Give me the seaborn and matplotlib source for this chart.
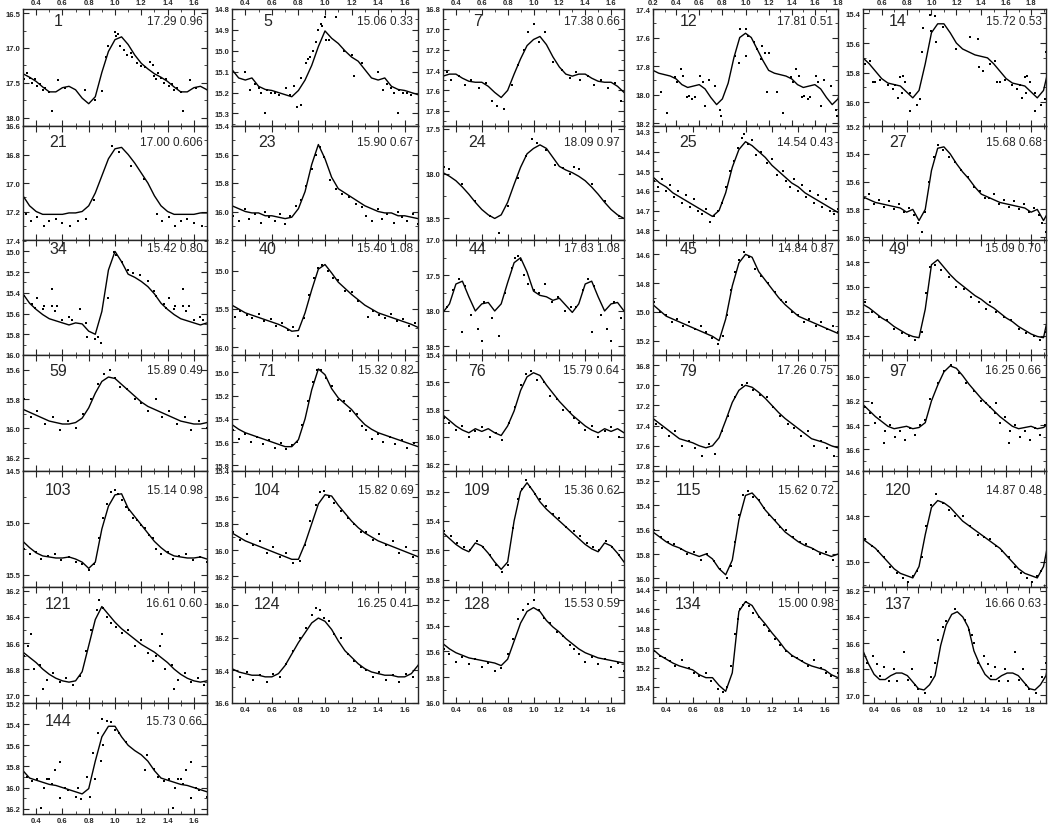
import matplotlib
matplotlib.use("Agg")
import matplotlib.pyplot as plt
from matplotlib.ticker import MultipleLocator, FormatStrFormatter
import seaborn as sns

# 광도곡선 패널 31개 (위상 0.00~0.95, 0.05 간격의 한 주기 곡선 + 관측점)

star_ids = [1, 5, 7, 12, 14,
            21, 23, 24, 25, 27,
            34, 40, 44, 45, 49,
            59, 71, 76, 79, 97,
            103, 104, 109, 115, 120,
            121, 124, 128, 134, 137,
            144]
mean_mag = ["17.29", "15.06", "17.38", "17.81", "15.72",
            "17.00", "15.90", "18.09", "14.54", "15.68",
            "15.42", "15.40", "17.63", "14.84", "15.09",
            "15.89", "15.32", "15.79", "17.26", "16.25",
            "15.14", "15.82", "15.36", "15.62", "14.87",
            "16.61", "16.25", "15.53", "15.00", "16.66",
            "15.73"]
amp = ["0.96", "0.33", "0.66", "0.51", "0.53",
       "0.606", "0.67", "0.97", "0.43", "0.68",
       "0.80", "1.08", "1.08", "0.87", "0.70",
       "0.49", "0.82", "0.64", "0.75", "0.66",
       "0.98", "0.69", "0.62", "0.72", "0.48",
       "0.60", "0.41", "0.59", "0.98", "0.63",
       "0.66"]
# y축 범위 (아래, 위) - 등급이므로 뒤집힘
y_lims = [(18.12, 16.44), (15.36, 14.80), (17.95, 16.80), (18.22, 17.40), (16.16, 15.37),
          (17.40, 16.60), (16.20, 15.40), (18.74, 17.47), (14.85, 14.27), (16.02, 15.20),
          (16.00, 14.89), (16.10, 14.60), (18.62, 17.00), (15.30, 14.50), (15.55, 14.62),
          (16.29, 15.50), (15.85, 14.85), (16.25, 15.40), (17.85, 16.70), (16.78, 15.82),
          (15.62, 14.50), (16.28, 15.40), (15.85, 15.06), (16.07, 15.12), (15.11, 14.60),
          (17.06, 16.17), (16.60, 15.89), (16.00, 15.10), (15.56, 14.37), (17.06, 16.17),
          (16.25, 15.20)]
y_steps = [0.5, 0.1, 0.2, 0.2, 0.2,
           0.2, 0.2, 0.5, 0.1, 0.2,
           0.2, 0.5, 0.5, 0.2, 0.2,
           0.2, 0.2, 0.2, 0.2, 0.2,
           0.5, 0.2, 0.2, 0.2, 0.2,
           0.2, 0.2, 0.2, 0.2, 0.2,
           0.2]
x_lims = [(0.3, 1.7), (0.3, 1.7), (0.3, 1.7), (0.2, 1.8), (0.45, 1.92),
          (0.3, 1.7), (0.3, 1.7), (0.3, 1.7), (0.3, 1.7), (0.45, 1.92),
          (0.3, 1.7), (0.3, 1.7), (0.3, 1.7), (0.3, 1.7), (0.45, 1.92),
          (0.3, 1.7), (0.3, 1.7), (0.3, 1.7), (0.3, 1.7), (0.45, 1.92),
          (0.3, 1.7), (0.3, 1.7), (0.3, 1.7), (0.3, 1.7), (0.45, 1.92),
          (0.3, 1.7), (0.3, 1.7), (0.3, 1.7), (0.3, 1.7), (0.3, 1.95),
          (0.3, 1.7)]

curve_phase = [0.00, 0.05, 0.10, 0.15, 0.20, 0.25, 0.30, 0.35, 0.40, 0.45,
               0.50, 0.55, 0.60, 0.65, 0.70, 0.75, 0.80, 0.85, 0.90, 0.95]

c_1 = [16.88, 16.84, 16.95, 17.10, 17.22, 17.30, 17.37, 17.42, 17.48, 17.56, 17.63, 17.63, 17.57, 17.55, 17.60, 17.72, 17.80, 17.70, 17.35, 17.05]
c_5 = [14.905, 14.94, 14.965, 15.00, 15.03, 15.05, 15.09, 15.13, 15.14, 15.13, 15.17, 15.185, 15.19, 15.20, 15.21, 15.22, 15.19, 15.14, 15.07, 14.98]
c_7 = [17.10, 17.07, 17.15, 17.27, 17.37, 17.44, 17.46, 17.44, 17.44, 17.48, 17.51, 17.52, 17.52, 17.56, 17.62, 17.67, 17.60, 17.44, 17.29, 17.16]
c_12 = [17.57, 17.60, 17.68, 17.76, 17.83, 17.85, 17.86, 17.87, 17.89, 17.93, 17.95, 17.94, 17.93, 17.96, 18.02, 18.07, 18.03, 17.92, 17.74, 17.60]
c_14 = [15.53, 15.47, 15.47, 15.53, 15.60, 15.64, 15.66, 15.68, 15.69, 15.70, 15.74, 15.79, 15.84, 15.87, 15.88, 15.89, 15.93, 15.97, 15.92, 15.74]
c_21 = [16.76, 16.75, 16.80, 16.86, 16.93, 17.00, 17.09, 17.16, 17.20, 17.22, 17.22, 17.22, 17.22, 17.21, 17.21, 17.20, 17.16, 17.07, 16.95, 16.83]
c_23 = [15.63, 15.76, 15.84, 15.87, 15.90, 15.93, 15.96, 15.98, 16.00, 16.01, 16.01, 16.03, 16.03, 16.04, 16.05, 16.04, 15.98, 15.86, 15.67, 15.53]
c_24 = [17.72, 17.68, 17.72, 17.82, 17.92, 17.96, 17.99, 18.03, 18.08, 18.15, 18.23, 18.32, 18.40, 18.46, 18.50, 18.46, 18.32, 18.12, 17.93, 17.78]
c_25 = [14.35, 14.37, 14.40, 14.43, 14.47, 14.50, 14.53, 14.56, 14.58, 14.61, 14.63, 14.65, 14.67, 14.69, 14.71, 14.73, 14.70, 14.61, 14.48, 14.39]
c_27 = [15.52, 15.36, 15.35, 15.40, 15.47, 15.53, 15.58, 15.64, 15.69, 15.71, 15.73, 15.75, 15.76, 15.77, 15.78, 15.79, 15.82, 15.80, 15.88, 15.80]
c_34 = [15.00, 15.10, 15.22, 15.25, 15.29, 15.34, 15.41, 15.50, 15.56, 15.61, 15.65, 15.67, 15.69, 15.71, 15.69, 15.70, 15.77, 15.80, 15.58, 15.18]
c_40 = [14.92, 15.03, 15.15, 15.23, 15.31, 15.38, 15.45, 15.50, 15.55, 15.58, 15.61, 15.64, 15.67, 15.70, 15.74, 15.79, 15.78, 15.55, 15.25, 14.98]
c_44 = [17.72, 17.78, 17.80, 17.85, 17.82, 17.92, 18.02, 17.90, 17.62, 17.58, 17.80, 18.00, 17.90, 17.88, 18.00, 17.90, 17.60, 17.32, 17.25, 17.45]
c_45 = [14.60, 14.62, 14.72, 14.78, 14.84, 14.90, 14.95, 14.99, 15.03, 15.05, 15.07, 15.09, 15.11, 15.13, 15.15, 15.17, 15.20, 15.05, 14.82, 14.66]
c_49 = [14.82, 14.78, 14.84, 14.90, 14.95, 14.99, 15.03, 15.07, 15.10, 15.14, 15.17, 15.21, 15.25, 15.28, 15.32, 15.35, 15.38, 15.40, 15.41, 15.18]
c_59 = [15.66, 15.70, 15.74, 15.78, 15.82, 15.85, 15.87, 15.89, 15.91, 15.93, 15.95, 15.96, 15.97, 15.97, 15.96, 15.93, 15.86, 15.76, 15.68, 15.65]
c_71 = [15.02, 15.14, 15.22, 15.27, 15.32, 15.39, 15.45, 15.49, 15.52, 15.54, 15.56, 15.58, 15.60, 15.62, 15.64, 15.64, 15.58, 15.40, 15.15, 14.97]
c_76 = [15.53, 15.55, 15.62, 15.68, 15.74, 15.79, 15.84, 15.88, 15.92, 15.95, 15.97, 15.94, 15.96, 15.94, 15.97, 15.99, 15.92, 15.81, 15.66, 15.56]
c_79 = [17.00, 17.02, 17.07, 17.13, 17.20, 17.27, 17.33, 17.38, 17.43, 17.48, 17.53, 17.55, 17.57, 17.60, 17.62, 17.60, 17.52, 17.35, 17.17, 17.05]
c_97 = [16.20, 16.07, 15.96, 15.91, 15.93, 15.99, 16.06, 16.12, 16.18, 16.23, 16.28, 16.33, 16.37, 16.41, 16.43, 16.42, 16.41, 16.43, 16.42, 16.38]
c_103 = [14.73, 14.72, 14.86, 14.94, 15.02, 15.10, 15.18, 15.24, 15.29, 15.32, 15.33, 15.34, 15.34, 15.33, 15.35, 15.38, 15.44, 15.38, 15.06, 14.84]
c_104 = [15.58, 15.59, 15.66, 15.72, 15.78, 15.83, 15.87, 15.90, 15.93, 15.95, 15.97, 15.99, 16.01, 16.03, 16.05, 16.07, 16.07, 15.95, 15.80, 15.65]
c_109 = [15.20, 15.27, 15.32, 15.36, 15.40, 15.44, 15.48, 15.52, 15.56, 15.59, 15.61, 15.55, 15.57, 15.62, 15.68, 15.73, 15.68, 15.40, 15.20, 15.14]
c_115 = [15.32, 15.30, 15.36, 15.44, 15.50, 15.56, 15.62, 15.66, 15.70, 15.73, 15.75, 15.78, 15.80, 15.82, 15.80, 15.84, 15.92, 15.97, 15.85, 15.52]
c_120 = [14.76, 14.73, 14.74, 14.76, 14.79, 14.82, 14.84, 14.86, 14.88, 14.90, 14.92, 14.94, 14.97, 15.00, 15.03, 15.05, 15.06, 15.07, 15.02, 14.88]
c_121 = [16.44, 16.49, 16.53, 16.57, 16.61, 16.64, 16.67, 16.71, 16.75, 16.80, 16.84, 16.87, 16.89, 16.90, 16.89, 16.82, 16.62, 16.42, 16.32, 16.38]
c_124 = [16.10, 16.15, 16.22, 16.28, 16.32, 16.36, 16.39, 16.41, 16.42, 16.43, 16.43, 16.44, 16.44, 16.42, 16.37, 16.30, 16.23, 16.17, 16.11, 16.08]
c_128 = [15.26, 15.29, 15.36, 15.41, 15.45, 15.50, 15.54, 15.58, 15.61, 15.63, 15.65, 15.66, 15.67, 15.68, 15.69, 15.71, 15.66, 15.52, 15.38, 15.29]
c_134 = [14.52, 14.56, 14.67, 14.75, 14.84, 14.92, 15.01, 15.07, 15.11, 15.15, 15.18, 15.20, 15.22, 15.27, 15.30, 15.30, 15.38, 15.44, 15.25, 14.62]
c_137 = [16.62, 16.46, 16.38, 16.36, 16.40, 16.48, 16.66, 16.76, 16.84, 16.88, 16.88, 16.85, 16.83, 16.83, 16.85, 16.90, 16.95, 16.96, 16.92, 16.85]
c_144 = [15.42, 15.52, 15.60, 15.65, 15.69, 15.75, 15.84, 15.91, 15.93, 15.95, 15.97, 15.98, 16.00, 16.02, 16.04, 16.06, 16.01, 15.75, 15.52, 15.42]

# 관측점 (위상, 등급)
ph_1 = [0.00, 0.005, 0.02, 0.04, 0.07, 0.09, 0.12, 0.13, 0.17, 0.20, 0.23, 0.27, 0.29, 0.30, 0.31, 0.33, 0.35, 0.37, 0.39, 0.41, 0.43, 0.45, 0.47, 0.50, 0.52, 0.57, 0.62, 0.77, 0.85, 0.90, 0.93, 0.95]
mg_1 = [16.77, 16.83, 16.80, 16.97, 17.03, 17.10, 17.07, 17.13, 17.22, 17.26, 17.27, 17.20, 17.24, 17.40, 17.45, 17.36, 17.43, 17.50, 17.45, 17.55, 17.52, 17.60, 17.57, 17.63, 17.91, 17.46, 17.57, 17.60, 17.74, 17.62, 17.13, 16.97]
ph_5 = [0.00, 0.01, 0.03, 0.08, 0.14, 0.20, 0.22, 0.28, 0.40, 0.435, 0.47, 0.50, 0.52, 0.55, 0.56, 0.59, 0.62, 0.65, 0.71, 0.74, 0.77, 0.79, 0.82, 0.82, 0.86, 0.87, 0.89, 0.91, 0.93, 0.95, 0.97, 0.98]
mg_5 = [14.84, 14.95, 14.95, 14.84, 15.00, 15.02, 15.12, 15.06, 15.10, 15.19, 15.16, 15.18, 15.20, 15.30, 15.19, 15.20, 15.20, 15.21, 15.18, 15.21, 15.17, 15.27, 15.26, 15.13, 15.06, 15.04, 15.03, 15.00, 14.96, 14.90, 14.87, 14.88]
ph_7 = [0.00, 0.04, 0.09, 0.15, 0.22, 0.28, 0.33, 0.36, 0.42, 0.47, 0.52, 0.58, 0.63, 0.68, 0.72, 0.77, 0.83, 0.88, 0.93, 0.96]
mg_7 = [16.95, 17.12, 17.03, 17.32, 17.40, 17.48, 17.42, 17.50, 17.46, 17.55, 17.50, 17.58, 17.53, 17.70, 17.75, 17.78, 17.55, 17.35, 17.20, 17.03]
ph_12 = [0.95, 0.00, 0.00, 0.02, 0.07, 0.10, 0.13, 0.14, 0.17, 0.19, 0.20, 0.27, 0.32, 0.39, 0.41, 0.44, 0.46, 0.49, 0.51, 0.54, 0.56, 0.61, 0.63, 0.65, 0.68, 0.74, 0.78, 0.79, 0.91, 0.94]
mg_12 = [17.54, 17.54, 17.73, 17.59, 17.63, 17.68, 17.75, 17.66, 17.71, 17.98, 17.71, 17.98, 18.13, 17.88, 17.91, 17.82, 17.87, 18.02, 18.01, 18.03, 18.02, 17.87, 17.91, 18.08, 17.90, 17.94, 18.11, 18.15, 17.73, 17.78]
ph_14 = [0.47, 0.53, 0.59, 0.65, 0.71, 0.75, 0.77, 0.79, 0.69, 0.73, 0.76, 0.83, 0.83, 0.88, 0.91, 0.92, 0.93, 0.99, 0.03, 0.00, 0.04, 0.09, 0.20, 0.31, 0.37, 0.38, 0.41, 0.51, 0.55]
mg_14 = [15.74, 15.86, 15.85, 15.88, 15.88, 15.83, 15.82, 15.86, 15.91, 15.97, 15.94, 15.94, 16.06, 16.02, 15.98, 15.66, 15.50, 15.41, 15.42, 15.52, 15.59, 15.49, 15.64, 15.56, 15.57, 15.76, 15.79, 15.72, 15.86]
ph_21 = [0.32, 0.36, 0.41, 0.46, 0.50, 0.55, 0.60, 0.66, 0.72, 0.78, 0.84, 0.98, 0.03, 0.12, 0.22]
mg_21 = [17.22, 17.27, 17.24, 17.30, 17.27, 17.25, 17.28, 17.30, 17.27, 17.25, 17.12, 16.74, 16.78, 16.88, 16.97]
ph_23 = [0.31, 0.35, 0.40, 0.43, 0.47, 0.52, 0.55, 0.58, 0.62, 0.66, 0.70, 0.74, 0.78, 0.82, 0.86, 0.90, 0.93, 0.96, 0.99, 0.04, 0.08, 0.13, 0.18, 0.23, 0.28]
mg_23 = [16.03, 16.07, 15.98, 16.05, 16.02, 16.08, 16.00, 16.04, 16.07, 16.02, 16.09, 16.03, 15.96, 15.92, 15.82, 15.70, 15.60, 15.55, 15.62, 15.78, 15.84, 15.88, 15.90, 15.95, 15.97]
ph_24 = [0.31, 0.35, 0.45, 0.55, 0.66, 0.73, 0.80, 0.88, 0.94, 0.99, 0.03, 0.10, 0.17, 0.23, 0.28]
mg_24 = [17.93, 17.95, 18.12, 18.30, 18.47, 18.66, 18.36, 18.05, 17.80, 17.62, 17.66, 17.74, 17.90, 17.94, 18.00]
ph_25 = [0.31, 0.34, 0.37, 0.40, 0.43, 0.46, 0.49, 0.52, 0.55, 0.58, 0.61, 0.64, 0.67, 0.70, 0.73, 0.76, 0.79, 0.82, 0.85, 0.88, 0.91, 0.94, 0.97, 0.99, 0.02, 0.05, 0.08, 0.12, 0.16, 0.20, 0.24, 0.28]
mg_25 = [14.55, 14.58, 14.54, 14.60, 14.57, 14.63, 14.60, 14.66, 14.62, 14.68, 14.64, 14.70, 14.72, 14.69, 14.76, 14.73, 14.70, 14.66, 14.58, 14.50, 14.45, 14.38, 14.33, 14.31, 14.36, 14.34, 14.42, 14.40, 14.46, 14.44, 14.52, 14.50]
ph_27 = [0.46, 0.50, 0.54, 0.58, 0.62, 0.66, 0.70, 0.74, 0.78, 0.82, 0.86, 0.89, 0.92, 0.95, 0.98, 0.02, 0.05, 0.09, 0.14, 0.19, 0.24, 0.29, 0.34, 0.39, 0.43]
mg_27 = [15.72, 15.69, 15.76, 15.73, 15.78, 15.74, 15.80, 15.76, 15.82, 15.79, 15.84, 15.90, 15.96, 15.82, 15.60, 15.42, 15.34, 15.37, 15.42, 15.46, 15.52, 15.57, 15.64, 15.67, 15.72]
ph_34 = [0.31, 0.37, 0.39, 0.41, 0.45, 0.46, 0.52, 0.52, 0.54, 0.56, 0.60, 0.65, 0.67, 0.73, 0.78, 0.79, 0.85, 0.89, 0.87, 0.95, 0.99, 0.01, 0.05, 0.10, 0.14, 0.19, 0.25, 0.30]
mg_34 = [15.43, 15.51, 15.55, 15.45, 15.56, 15.53, 15.36, 15.53, 15.58, 15.53, 15.66, 15.63, 15.66, 15.56, 15.69, 15.83, 15.85, 15.88, 15.83, 15.45, 15.01, 15.03, 15.10, 15.18, 15.21, 15.23, 15.29, 15.38]
ph_40 = [0.32, 0.36, 0.41, 0.45, 0.50, 0.54, 0.59, 0.63, 0.68, 0.72, 0.76, 0.80, 0.84, 0.88, 0.92, 0.95, 0.98, 0.02, 0.06, 0.10, 0.15, 0.20, 0.25]
mg_40 = [15.60, 15.52, 15.58, 15.62, 15.57, 15.66, 15.63, 15.72, 15.68, 15.77, 15.74, 15.85, 15.62, 15.32, 15.10, 14.96, 14.93, 15.00, 15.10, 15.12, 15.26, 15.28, 15.40]
ph_44 = [0.33, 0.38, 0.42, 0.47, 0.52, 0.57, 0.62, 0.68, 0.73, 0.78, 0.83, 0.86, 0.88, 0.90, 0.93, 0.96, 0.00, 0.04, 0.09, 0.14, 0.19, 0.24, 0.29, 0.45, 0.60]
mg_44 = [17.95, 17.70, 17.55, 17.65, 18.05, 18.25, 17.88, 18.10, 18.35, 17.75, 17.40, 17.25, 17.22, 17.28, 17.50, 17.62, 17.70, 17.75, 17.62, 17.88, 17.80, 18.00, 17.95, 18.30, 18.42]
ph_45 = [0.31, 0.35, 0.40, 0.44, 0.48, 0.53, 0.57, 0.62, 0.66, 0.70, 0.75, 0.79, 0.83, 0.86, 0.89, 0.92, 0.95, 0.99, 0.03, 0.07, 0.12, 0.17, 0.22, 0.27]
mg_45 = [14.93, 15.00, 15.02, 15.07, 15.05, 15.10, 15.07, 15.12, 15.10, 15.14, 15.18, 15.22, 15.17, 15.02, 14.85, 14.72, 14.64, 14.58, 14.62, 14.70, 14.75, 14.80, 14.86, 14.92]
ph_49 = [0.47, 0.52, 0.58, 0.64, 0.70, 0.76, 0.82, 0.87, 0.92, 0.96, 0.99, 0.03, 0.08, 0.14, 0.20, 0.26, 0.32, 0.38, 0.44]
mg_49 = [15.12, 15.20, 15.24, 15.27, 15.34, 15.37, 15.40, 15.43, 15.36, 15.05, 14.84, 14.82, 14.86, 14.92, 15.00, 15.02, 15.08, 15.12, 15.18]
ph_59 = [0.31, 0.36, 0.41, 0.47, 0.53, 0.58, 0.64, 0.70, 0.76, 0.82, 0.87, 0.92, 0.96, 0.00, 0.04, 0.09, 0.15, 0.20, 0.25]
mg_59 = [15.80, 15.92, 15.88, 15.97, 15.92, 16.01, 15.95, 16.00, 15.90, 15.80, 15.70, 15.63, 15.60, 15.66, 15.72, 15.73, 15.80, 15.83, 15.88]
ph_71 = [0.31, 0.35, 0.40, 0.44, 0.49, 0.53, 0.58, 0.62, 0.67, 0.71, 0.75, 0.79, 0.83, 0.87, 0.91, 0.94, 0.97, 0.01, 0.05, 0.10, 0.14, 0.19, 0.24, 0.28]
mg_71 = [15.50, 15.57, 15.53, 15.60, 15.56, 15.62, 15.58, 15.65, 15.61, 15.66, 15.63, 15.60, 15.45, 15.25, 15.08, 14.98, 14.98, 15.05, 15.12, 15.24, 15.25, 15.33, 15.36, 15.46]
ph_76 = [0.31, 0.35, 0.40, 0.45, 0.50, 0.55, 0.60, 0.66, 0.71, 0.76, 0.81, 0.86, 0.90, 0.94, 0.98, 0.03, 0.08, 0.13, 0.18, 0.23, 0.28]
mg_76 = [15.86, 15.90, 15.95, 15.92, 16.00, 15.96, 15.93, 16.00, 15.97, 16.02, 15.90, 15.78, 15.62, 15.54, 15.52, 15.58, 15.60, 15.70, 15.72, 15.80, 15.82]
ph_79 = [0.32, 0.37, 0.42, 0.47, 0.52, 0.57, 0.62, 0.67, 0.72, 0.77, 0.82, 0.87, 0.92, 0.97, 0.01, 0.06, 0.11, 0.16, 0.21, 0.26]
mg_79 = [17.38, 17.42, 17.50, 17.45, 17.60, 17.55, 17.62, 17.70, 17.58, 17.68, 17.45, 17.30, 17.12, 17.00, 16.98, 17.05, 17.10, 17.12, 17.22, 17.30]
ph_97 = [0.47, 0.51, 0.55, 0.59, 0.63, 0.67, 0.71, 0.75, 0.79, 0.83, 0.87, 0.91, 0.95, 0.99, 0.05, 0.10, 0.16, 0.22, 0.28, 0.34, 0.40, 0.44, 0.52, 0.62]
mg_97 = [16.25, 16.30, 16.38, 16.33, 16.45, 16.40, 16.50, 16.45, 16.52, 16.42, 16.48, 16.40, 16.36, 16.18, 16.05, 15.95, 15.90, 15.97, 16.05, 16.12, 16.20, 16.22, 16.22, 16.55]
ph_103 = [0.31, 0.35, 0.40, 0.44, 0.49, 0.54, 0.59, 0.65, 0.70, 0.75, 0.80, 0.84, 0.88, 0.91, 0.94, 0.97, 0.00, 0.02, 0.05, 0.08, 0.11, 0.14, 0.17, 0.20, 0.23, 0.26, 0.29]
mg_103 = [15.25, 15.30, 15.28, 15.35, 15.32, 15.30, 15.36, 15.33, 15.38, 15.40, 15.46, 15.40, 15.15, 14.95, 14.82, 14.70, 14.68, 14.72, 14.78, 14.85, 14.88, 14.95, 14.97, 15.02, 15.05, 15.12, 15.15]
ph_104 = [0.31, 0.36, 0.41, 0.46, 0.51, 0.56, 0.61, 0.66, 0.71, 0.76, 0.81, 0.85, 0.89, 0.93, 0.96, 0.99, 0.03, 0.07, 0.12, 0.17, 0.22, 0.27]
mg_104 = [15.86, 15.92, 15.88, 15.96, 15.93, 16.02, 15.98, 16.05, 16.02, 16.10, 16.08, 15.96, 15.78, 15.66, 15.56, 15.55, 15.60, 15.64, 15.70, 15.76, 15.80, 15.86]
ph_109 = [0.31, 0.36, 0.41, 0.46, 0.51, 0.56, 0.61, 0.66, 0.71, 0.76, 0.80, 0.84, 0.88, 0.91, 0.94, 0.97, 0.01, 0.05, 0.10, 0.15, 0.20, 0.25]
mg_109 = [15.47, 15.50, 15.55, 15.58, 15.60, 15.54, 15.58, 15.63, 15.70, 15.75, 15.70, 15.45, 15.25, 15.18, 15.12, 15.17, 15.22, 15.25, 15.30, 15.35, 15.38, 15.44]
ph_115 = [0.31, 0.36, 0.41, 0.46, 0.51, 0.56, 0.61, 0.66, 0.71, 0.76, 0.81, 0.86, 0.89, 0.92, 0.95, 0.98, 0.02, 0.06, 0.10, 0.14, 0.18, 0.22, 0.26]
mg_115 = [15.60, 15.66, 15.70, 15.72, 15.76, 15.80, 15.78, 15.85, 15.80, 15.86, 15.92, 16.00, 15.90, 15.70, 15.48, 15.32, 15.28, 15.33, 15.36, 15.42, 15.48, 15.52, 15.58]
ph_120 = [0.47, 0.52, 0.57, 0.62, 0.67, 0.72, 0.77, 0.81, 0.85, 0.88, 0.92, 0.96, 0.00, 0.04, 0.09, 0.14, 0.19, 0.25, 0.31, 0.37, 0.42]
mg_120 = [14.90, 14.93, 14.95, 14.98, 15.02, 15.05, 15.07, 15.09, 15.06, 15.04, 14.98, 14.84, 14.75, 14.70, 14.74, 14.77, 14.80, 14.80, 14.84, 14.88, 14.89]
ph_121 = [0.31, 0.34, 0.38, 0.43, 0.48, 0.53, 0.58, 0.63, 0.68, 0.73, 0.78, 0.82, 0.86, 0.88, 0.91, 0.94, 0.97, 0.01, 0.05, 0.10, 0.15, 0.20, 0.25, 0.29, 0.36, 0.45]
mg_121 = [16.70, 16.62, 16.80, 16.77, 16.88, 16.83, 16.90, 16.87, 16.92, 16.85, 16.66, 16.50, 16.35, 16.27, 16.33, 16.40, 16.45, 16.48, 16.52, 16.50, 16.62, 16.58, 16.68, 16.74, 16.53, 16.95]
ph_124 = [0.31, 0.36, 0.41, 0.46, 0.51, 0.56, 0.61, 0.66, 0.71, 0.76, 0.81, 0.86, 0.90, 0.93, 0.96, 0.99, 0.03, 0.07, 0.12, 0.17, 0.22, 0.27]
mg_124 = [16.40, 16.44, 16.41, 16.46, 16.43, 16.47, 16.42, 16.44, 16.36, 16.28, 16.20, 16.14, 16.06, 16.02, 16.03, 16.08, 16.10, 16.18, 16.20, 16.30, 16.34, 16.38]
ph_128 = [0.31, 0.35, 0.40, 0.45, 0.50, 0.55, 0.60, 0.65, 0.70, 0.75, 0.80, 0.84, 0.88, 0.92, 0.96, 0.00, 0.04, 0.08, 0.13, 0.18, 0.23, 0.28]
mg_128 = [15.58, 15.62, 15.68, 15.64, 15.70, 15.66, 15.72, 15.69, 15.75, 15.73, 15.62, 15.50, 15.35, 15.28, 15.23, 15.20, 15.28, 15.34, 15.38, 15.45, 15.48, 15.55]
ph_134 = [0.31, 0.35, 0.39, 0.43, 0.47, 0.52, 0.57, 0.61, 0.65, 0.70, 0.74, 0.79, 0.83, 0.86, 0.89, 0.92, 0.94, 0.96, 0.98, 0.00, 0.03, 0.06, 0.10, 0.14, 0.18, 0.22, 0.26]
mg_134 = [15.03, 15.08, 15.10, 15.13, 15.18, 15.12, 15.20, 15.25, 15.28, 15.25, 15.33, 15.42, 15.45, 15.40, 15.18, 14.85, 14.70, 14.60, 14.55, 14.52, 14.56, 14.64, 14.68, 14.76, 14.82, 14.90, 14.96]
ph_137 = [0.34, 0.39, 0.43, 0.49, 0.53, 0.58, 0.61, 0.67, 0.71, 0.77, 0.86, 0.91, 0.95, 0.98, 0.02, 0.05, 0.13, 0.22, 0.26, 0.28, 0.30, 0.80, 0.74, 0.45]
mg_137 = [16.75, 16.70, 16.76, 16.78, 16.89, 16.80, 16.89, 16.67, 16.88, 16.92, 16.98, 16.86, 16.75, 16.58, 16.48, 16.43, 16.34, 16.42, 16.50, 16.54, 16.60, 16.95, 16.80, 16.85]
ph_144 = [0.30, 0.33, 0.37, 0.41, 0.46, 0.48, 0.50, 0.52, 0.54, 0.58, 0.58, 0.62, 0.64, 0.70, 0.72, 0.74, 0.79, 0.81, 0.83, 0.85, 0.87, 0.89, 0.90, 0.91, 0.94, 0.97, 0.00, 0.03, 0.08, 0.23, 0.24, 0.44]
mg_144 = [15.82, 15.90, 15.94, 15.92, 16.00, 15.92, 15.92, 15.97, 15.83, 15.76, 16.10, 16.00, 16.02, 16.09, 16.00, 16.11, 15.90, 16.09, 15.67, 15.92, 15.48, 15.75, 15.35, 15.60, 15.37, 15.38, 15.46, 15.48, 15.57, 15.83, 15.69, 16.19]

curves = {1: c_1, 5: c_5, 7: c_7, 12: c_12, 14: c_14, 21: c_21, 23: c_23, 24: c_24,
          25: c_25, 27: c_27, 34: c_34, 40: c_40, 44: c_44, 45: c_45, 49: c_49,
          59: c_59, 71: c_71, 76: c_76, 79: c_79, 97: c_97, 103: c_103, 104: c_104,
          109: c_109, 115: c_115, 120: c_120, 121: c_121, 124: c_124, 128: c_128,
          134: c_134, 137: c_137, 144: c_144}
points = {1: (ph_1, mg_1), 5: (ph_5, mg_5), 7: (ph_7, mg_7), 12: (ph_12, mg_12),
          14: (ph_14, mg_14), 21: (ph_21, mg_21), 23: (ph_23, mg_23), 24: (ph_24, mg_24),
          25: (ph_25, mg_25), 27: (ph_27, mg_27), 34: (ph_34, mg_34), 40: (ph_40, mg_40),
          44: (ph_44, mg_44), 45: (ph_45, mg_45), 49: (ph_49, mg_49), 59: (ph_59, mg_59),
          71: (ph_71, mg_71), 76: (ph_76, mg_76), 79: (ph_79, mg_79), 97: (ph_97, mg_97),
          103: (ph_103, mg_103), 104: (ph_104, mg_104), 109: (ph_109, mg_109),
          115: (ph_115, mg_115), 120: (ph_120, mg_120), 121: (ph_121, mg_121),
          124: (ph_124, mg_124), 128: (ph_128, mg_128), 134: (ph_134, mg_134),
          137: (ph_137, mg_137), 144: (ph_144, mg_144)}


def tile(ph, mg, lo, hi, pad):
    """한 주기 데이터를 위상 +1 씩 반복해 x 범위를 채운다"""
    xs, ys = [], []
    for k in range(-1, 3):
        for p, m in zip(ph, mg):
            if lo - pad <= p + k <= hi + pad:
                xs.append(p + k)
                ys.append(m)
    return xs, ys


sns.set_style("ticks")
plt.rcParams['font.family'] = ['Liberation Sans', 'DejaVu Sans']
plt.rcParams['font.weight'] = 'bold'

W, H = 1049, 829
fig = plt.figure(figsize=(W / 100, H / 100), dpi=100)

col_left = [23, 232, 443, 653, 863]
col_width = [184, 186, 181, 185, 183]
row_top = [10, 127, 241, 356, 472, 588, 704]
row_bot = [127, 241, 356, 472, 588, 704, 815]
text_y = [0.90, 0.86, 0.93, 0.87, 0.84, 0.86, 0.84]

for i, sid in enumerate(star_ids):
    r, c = divmod(i, 5)
    x0, w = col_left[c], col_width[c]
    y0, y1 = row_top[r], row_bot[r]
    ax = fig.add_axes([x0 / W, 1 - y1 / H, w / W, (y1 - y0) / H])
    lo, hi = x_lims[i]

    cx, cy = tile(curve_phase, curves[sid], lo, hi, 0.06)
    sns.lineplot(x=cx, y=cy, ax=ax, color='black', linewidth=1.0, estimator=None)
    px, py = tile(points[sid][0], points[sid][1], lo, hi, 0.0)
    sns.scatterplot(x=px, y=py, ax=ax, color='black', marker='s', s=4, linewidth=0)

    ax.set_xlim(lo, hi)
    ax.set_ylim(*y_lims[i])
    ax.xaxis.set_major_locator(MultipleLocator(0.2))
    ax.xaxis.set_minor_locator(MultipleLocator(0.1))
    ax.yaxis.set_major_locator(MultipleLocator(y_steps[i]))
    ax.yaxis.set_minor_locator(MultipleLocator(y_steps[i] / 2))
    ax.xaxis.set_major_formatter(FormatStrFormatter('%.1f'))
    ax.yaxis.set_major_formatter(FormatStrFormatter('%.1f'))

    last = (c == 0 and r == 6) or (c > 0 and r == 5)
    ax.tick_params(which='both', direction='in', top=True, right=True,
                   labelsize=5.5, pad=2, labeltop=(r == 0), labelbottom=last)
    ax.tick_params(which='major', length=4, width=0.8)
    ax.tick_params(which='minor', length=2, width=0.6)
    for sp in ax.spines.values():
        sp.set_linewidth(1.0)
    ax.set_xlabel('')
    ax.set_ylabel('')

    ax.text(0.19, text_y[r], str(sid), transform=ax.transAxes, ha='center', va='center',
            fontsize=11.5, fontweight='normal')
    ax.text(0.975, text_y[r], f"{mean_mag[i]} {amp[i]}", transform=ax.transAxes,
            ha='right', va='center', fontsize=8.5, fontweight='normal')

fig.savefig('out.png', dpi=100)
